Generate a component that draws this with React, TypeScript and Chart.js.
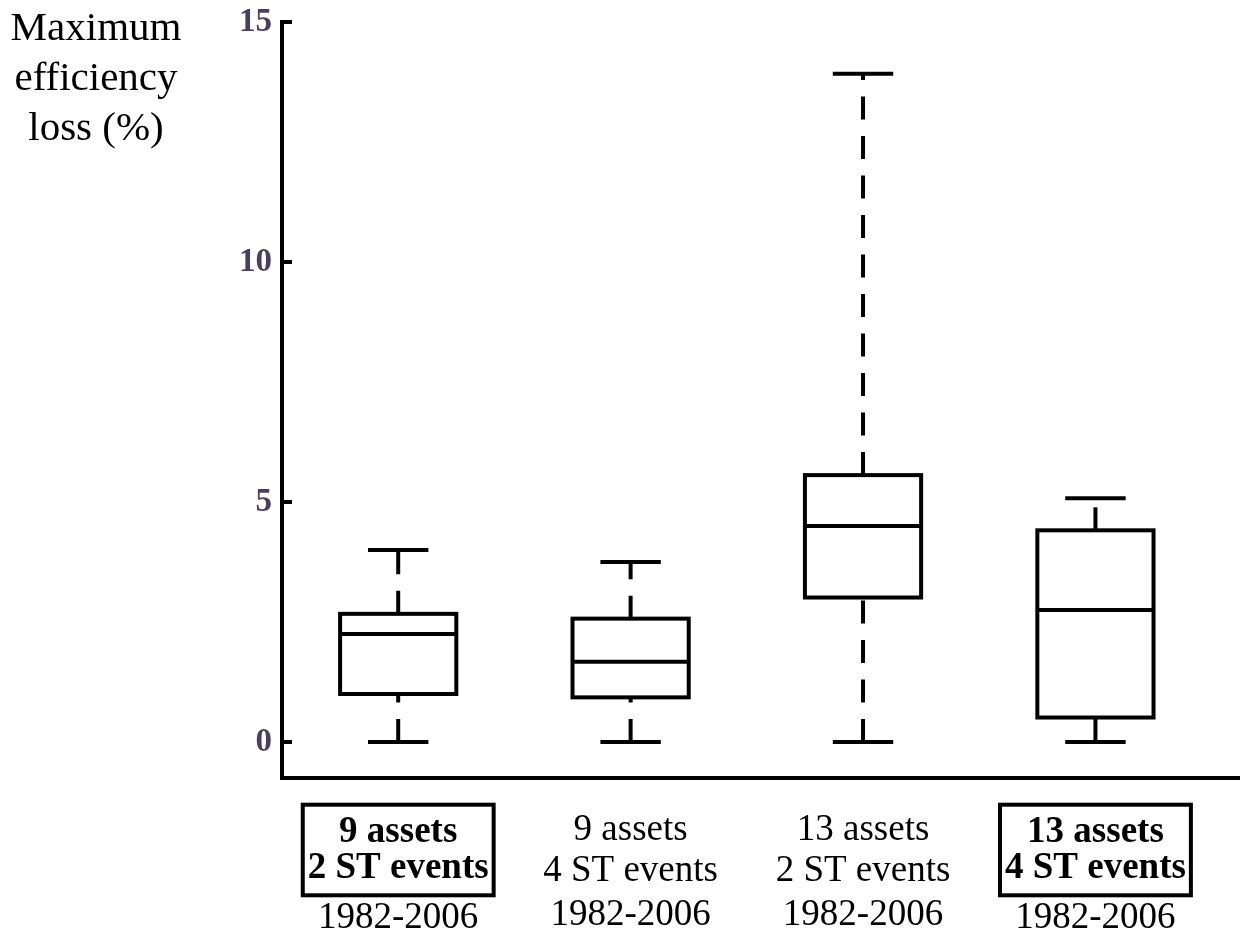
import React, { useEffect, useRef } from "react";
import { Chart, registerables } from "chart.js";

Chart.register(...registerables);

// ---- data ----
const categoryLines: string[][] = [
  ["9 assets", "2 ST events", "1982-2006"],
  ["9 assets", "4 ST events", "1982-2006"],
  ["13 assets", "2 ST events", "1982-2006"],
  ["13 assets", "4 ST events", "1982-2006"],
];
const highlighted = [true, false, false, true];
const positions = [1, 2, 3, 4];
const whiskerLow = [0, 0, 0, 0];
const q1 = [1.0, 0.93, 3.01, 0.51];
const median = [2.25, 1.67, 4.5, 2.75];
const q3 = [2.67, 2.57, 5.56, 4.41];
const whiskerHigh = [4.0, 3.75, 13.92, 5.08];
const yTicks = [0, 5, 10, 15];
const yTitleLines = ["Maximum", "efficiency", "loss (%)"];

// ---- style ----
const BOX_W = 0.5; // in x units
const CAP_W = 0.26; // in x units
const LINE_W = 4;
const DASH = [23, 16.5];
const TICK_LEN = 10;
const SERIF = "'Liberation Serif', 'Times New Roman', serif";

const boxPlugin = {
  id: "boxPlot",
  afterDatasetsDraw(chart: any) {
    const { ctx, scales, chartArea } = chart;
    const xs = scales.x;
    const ys = scales.y;
    ctx.save();
    ctx.strokeStyle = "#000";
    ctx.lineWidth = LINE_W;
    ctx.lineCap = "butt";

    const seg = (x1: number, y1: number, x2: number, y2: number, dash: number[]) => {
      ctx.beginPath();
      ctx.setLineDash(dash);
      ctx.moveTo(x1, y1);
      ctx.lineTo(x2, y2);
      ctx.stroke();
    };

    // inside tick marks on the y axis
    yTicks.forEach((v) => {
      const y = ys.getPixelForValue(v);
      seg(chartArea.left, y, chartArea.left + TICK_LEN, y, []);
    });

    positions.forEach((p, i) => {
      const cx = xs.getPixelForValue(p);
      const hw = xs.getPixelForValue(p + BOX_W / 2) - cx;
      const cw = xs.getPixelForValue(p + CAP_W / 2) - cx;
      const yLo = ys.getPixelForValue(whiskerLow[i]);
      const yQ1 = ys.getPixelForValue(q1[i]);
      const yMed = ys.getPixelForValue(median[i]);
      const yQ3 = ys.getPixelForValue(q3[i]);
      const yHi = ys.getPixelForValue(whiskerHigh[i]);

      // whiskers (dashed, drawn bottom to top)
      seg(cx, yLo, cx, yQ1, DASH);
      seg(cx, yQ3, cx, yHi, DASH);
      // caps
      seg(cx - cw, yLo, cx + cw, yLo, []);
      seg(cx - cw, yHi, cx + cw, yHi, []);
      // box
      ctx.setLineDash([]);
      ctx.fillStyle = "#fff";
      ctx.fillRect(cx - hw, yQ3, 2 * hw, yQ1 - yQ3);
      ctx.strokeRect(cx - hw, yQ3, 2 * hw, yQ1 - yQ3);
      // median
      seg(cx - hw, yMed, cx + hw, yMed, []);
    });
    ctx.restore();
  },
  afterDraw(chart: any) {
    const { ctx, scales } = chart;
    const xs = scales.x;
    ctx.save();
    ctx.fillStyle = "#000";
    ctx.textAlign = "center";
    ctx.textBaseline = "alphabetic";

    // y title
    ctx.font = `41px ${SERIF}`;
    const titleBase = [40, 90, 140];
    yTitleLines.forEach((t, k) => ctx.fillText(t, 96, titleBase[k]));

    // category labels
    positions.forEach((p, i) => {
      const cx = xs.getPixelForValue(p);
      const lines = categoryLines[i];
      if (highlighted[i]) {
        const base = [842, 878, 928];
        ctx.font = `bold 37px ${SERIF}`;
        const w = Math.max(ctx.measureText(lines[0]).width, ctx.measureText(lines[1]).width);
        ctx.fillText(lines[0], cx, base[0]);
        ctx.fillText(lines[1], cx, base[1]);
        ctx.lineWidth = LINE_W;
        ctx.strokeStyle = "#000";
        ctx.strokeRect(cx - w / 2 - 5, 804.7, w + 10, 90.6);
        ctx.font = `37px ${SERIF}`;
        ctx.fillText(lines[2], cx, base[2]);
      } else {
        const base = [840, 881, 925];
        ctx.font = `37px ${SERIF}`;
        lines.forEach((t, k) => ctx.fillText(t, cx, base[k]));
      }
    });
    ctx.restore();
  },
};

export default function App() {
  const ref = useRef<HTMLCanvasElement | null>(null);
  useEffect(() => {
    if (!ref.current) return;
    Chart.defaults.font.family = SERIF;
    const chart = new Chart(ref.current, {
      type: "scatter",
      data: {
        datasets: [
          {
            label: "median",
            data: positions.map((p, i) => ({ x: p, y: median[i] })),
            pointRadius: 0,
            showLine: false,
          },
        ],
      },
      options: {
        animation: false,
        responsive: false,
        devicePixelRatio: 1,
        layout: { padding: { top: 22, left: 0, right: 0, bottom: 0 } },
        plugins: { legend: { display: false }, tooltip: { enabled: false } },
        scales: {
          x: {
            type: "linear",
            min: 0.5,
            max: 4.622,
            ticks: { display: false },
            grid: { display: false, drawTicks: false },
            border: { display: true, color: "#000", width: LINE_W },
            afterFit: (s: any) => {
              s.height = 159;
              s.paddingLeft = 0;
              s.paddingRight = 0;
            },
          },
          y: {
            type: "linear",
            min: -0.75,
            max: 15,
            afterBuildTicks: (s: any) => {
              s.ticks = yTicks.map((v) => ({ value: v }));
            },
            ticks: {
              color: "#4b3f5e",
              padding: 10,
              font: { family: SERIF, size: 33, weight: "bold" },
            },
            grid: { display: false, drawTicks: false },
            border: { display: true, color: "#000", width: LINE_W },
            afterFit: (s: any) => {
              s.width = 282;
              s.paddingTop = 0;
              s.paddingBottom = 0;
            },
          },
        },
      } as any,
      plugins: [boxPlugin],
    });
    return () => chart.destroy();
  }, []);
  return (
    <div style={{ position: "absolute", left: 0, top: 0, width: 1240, height: 937, background: "#fff" }}>
      <canvas ref={ref} width={1240} height={937} style={{ display: "block" }} />
    </div>
  );
}
